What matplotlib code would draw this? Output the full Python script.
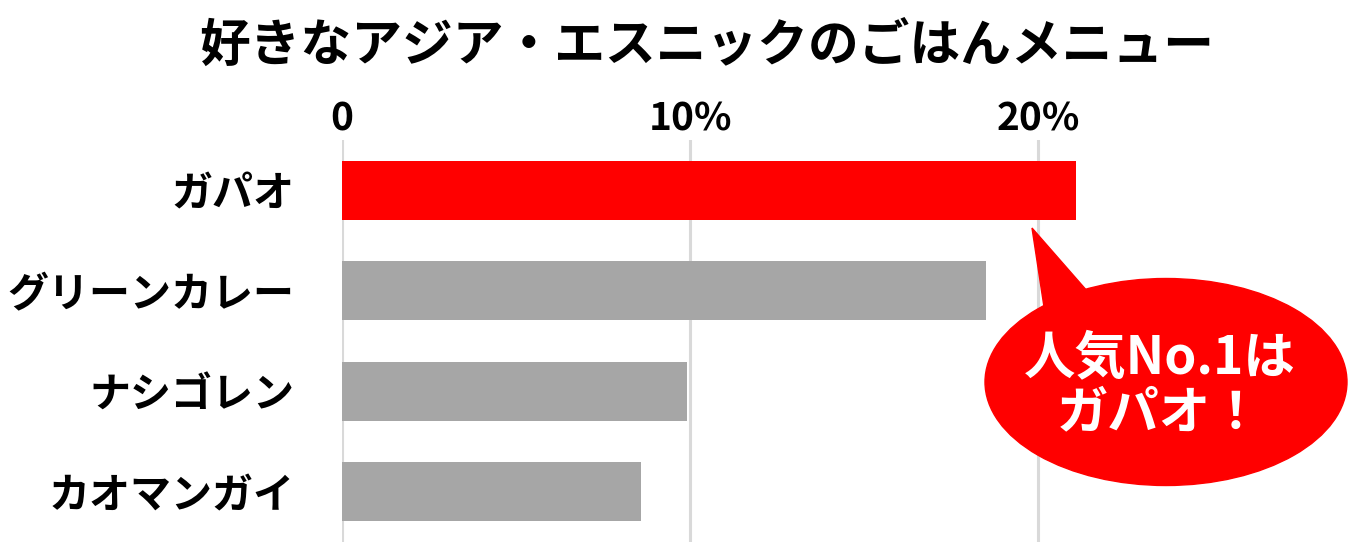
import matplotlib
matplotlib.use("Agg")
import matplotlib.pyplot as plt
from matplotlib.patches import Ellipse, Polygon

plt.rcParams['font.family'] = ['Noto Sans CJK JP', 'DejaVu Sans']
plt.rcParams['font.weight'] = 'bold'

title = "好きなアジア・エスニックのごはんメニュー"
menus = ["ガパオ", "グリーンカレー", "ナシゴレン", "カオマンガイ"]
shares = [21.1, 18.5, 9.9, 8.6]
bar_colors = ["#ff0000", "#a6a6a6", "#a6a6a6", "#a6a6a6"]
ticks = [0, 10, 20]
tick_labels = ["0", "10%", "20%"]
callout = "人気No.1は\nガパオ！"

W, H = 1355, 546
fig = plt.figure(figsize=(W / 100, H / 100), dpi=100)
ax = fig.add_axes([342 / W, 1 - 542 / H, 870 / W, 402 / H])

ax.barh(range(len(menus)), shares, height=0.59, color=bar_colors, zorder=3)
ax.set_xlim(0, 25)
ax.set_ylim(len(menus) - 0.5, -0.5)

ax.set_xticks(ticks)
ax.set_xticklabels(tick_labels, fontsize=28, fontweight='bold')
ax.xaxis.tick_top()
ax.tick_params(axis='x', length=0, pad=1)
ax.set_yticks(range(len(menus)))
ax.set_yticklabels(menus, fontsize=29.5, fontweight='bold')
ax.tick_params(axis='y', length=0, pad=34)

ax.grid(axis='x', color='#d9d9d9', linewidth=2.2, zorder=0)
for s in ax.spines.values():
    s.set_visible(False)

fig.text(707 / W, 1 - 46 / H, title, ha='center', va='center',
         fontsize=36.5, fontweight='bold')

# speech bubble
fig.add_artist(Ellipse((1166 / W, 1 - 382 / H), 362 / W, 207 / H,
                       transform=fig.transFigure, color='#ff0000', zorder=5))
fig.add_artist(Polygon([(1032 / W, 1 - 228 / H), (1046 / W, 1 - 320 / H),
                        (1095 / W, 1 - 300 / H)],
                       closed=True, transform=fig.transFigure,
                       color='#ff0000', zorder=5))
fig.text(1160 / W, 1 - 385 / H, callout, ha='center', va='center',
         fontsize=37, fontweight='bold', color='white', linespacing=1.05,
         zorder=6)

fig.savefig("out.png", dpi=100, facecolor='white')
